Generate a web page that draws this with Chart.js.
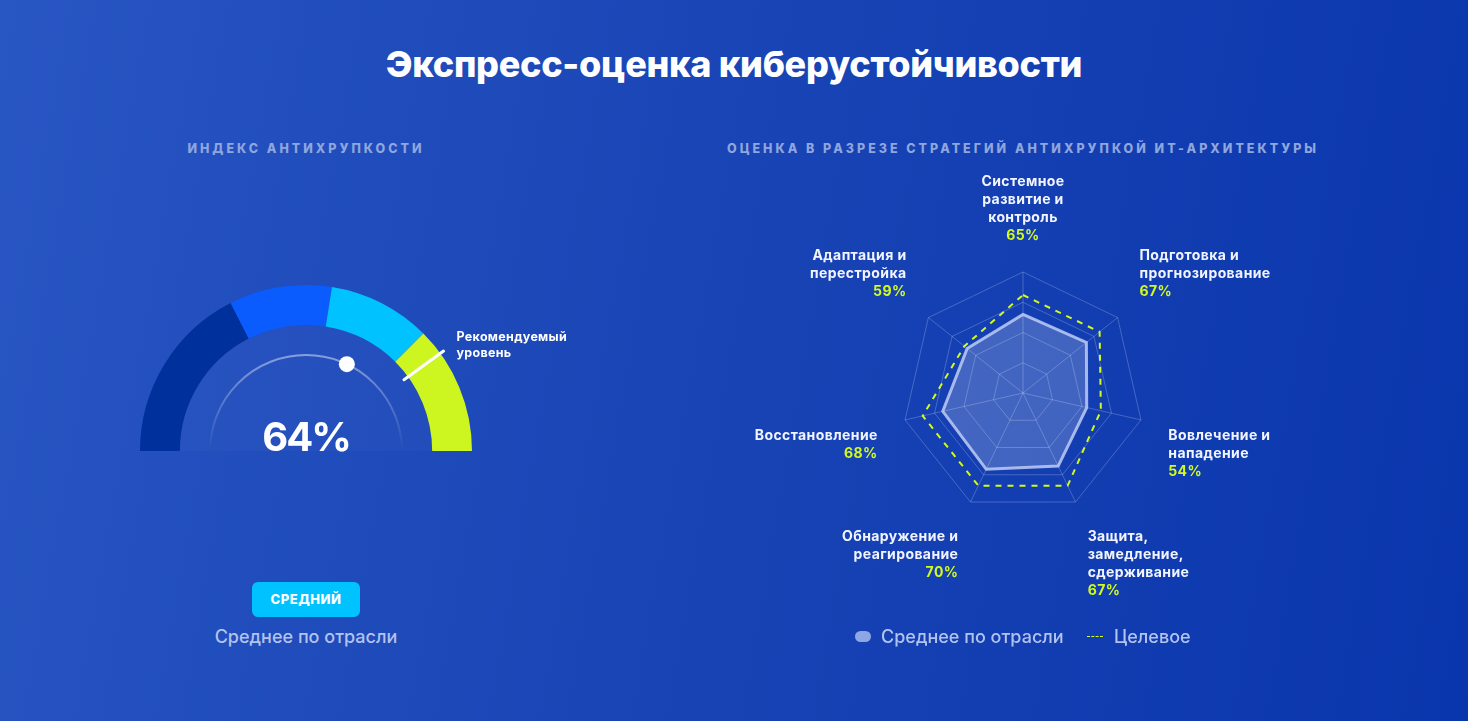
<!DOCTYPE html>
<html lang="ru">
<head>
<meta charset="utf-8">
<title>Экспресс-оценка киберустойчивости</title>
<script src="https://cdn.jsdelivr.net/npm/chart.js@4.4.1/dist/chart.umd.min.js"></script>
<style>
  html, body { margin: 0; padding: 0; }
  body {
    width: 1468px; height: 721px; overflow: hidden; position: relative;
    background: linear-gradient(100deg, #2856c3 0%, #1a45b6 45%, #0a36ad 100%);
    font-family: Inter, "Noto Sans", sans-serif; color: #fff;
  }
  h1 { position: absolute; left: 0; width: 1468px; top: 42px; margin: 0; text-align: center;
       font-size: 36px; font-weight: 800; letter-spacing: -0.3px; }
  .sub { position: absolute; top: 141px; font-size: 12.5px; font-weight: 800; letter-spacing: 3px;
         color: #8fa6de; text-align: center; white-space: nowrap; }
  canvas { position: absolute; }
  .badge { position: absolute; left: 252px; top: 582px; width: 108px; height: 35px; border-radius: 6px;
           background: #00c2ff; font-size: 13px; font-weight: 800; letter-spacing: 0.5px;
           line-height: 35px; text-align: center; }
  .note { position: absolute; font-size: 18px; font-weight: 500; color: #b3c3ee; line-height: 22px; white-space: nowrap; }
  .pill { position: absolute; left: 855px; top: 631px; width: 16px; height: 11px; border-radius: 6px; background: #8ea6e3; }
  .dash { position: absolute; left: 1087px; top: 636px; width: 16px; border-top: 1px dashed #d4ff1e; }
</style>
</head>
<body>
<h1>Экспресс-оценка киберустойчивости</h1>
<div class="sub" style="left:106px;width:400px;">ИНДЕКС АНТИХРУПКОСТИ</div>
<div class="sub" style="left:623px;width:800px;">ОЦЕНКА В РАЗРЕЗЕ СТРАТЕГИЙ АНТИХРУПКОЙ ИТ-АРХИТЕКТУРЫ</div>

<canvas id="gauge" width="520" height="260" style="left:100px;top:260px;width:520px;height:260px;"></canvas>
<canvas id="radar" width="650" height="480" style="left:700px;top:160px;width:650px;height:480px;"></canvas>

<div class="badge">СРЕДНИЙ</div>
<div class="note" style="left:106px;width:400px;text-align:center;top:626px;">Среднее по отрасли</div>

<div class="pill"></div>
<div class="note" style="left:881px;top:626px;">Среднее по отрасли</div>
<div class="dash"></div>
<div class="note" style="left:1114px;top:626px;">Целевое</div>

<script>
// gauge: colour bands of the index scale, 0..100
const gaugeBands = [35, 20, 20, 25];
const gaugeColors = ['#00309b', '#0b5cff', '#00c2ff', '#cdf520'];
const indexValue = 64;
const recommendedLevel = 80;

// radar: strategies, industry average and target
const strategyLabels = [
  ['Системное', 'развитие и', 'контроль'],
  ['Подготовка и', 'прогнозирование'],
  ['Вовлечение и', 'нападение'],
  ['Защита,', 'замедление,', 'сдерживание'],
  ['Обнаружение и', 'реагирование'],
  ['Восстановление'],
  ['Адаптация и', 'перестройка']
];
const industryAvg = [65, 67, 54, 67, 70, 68, 59];
const targetLevel = [81, 81, 66, 85, 85, 85, 62];

const LIME = '#d2fa1e';

// angle on the half ring for a value 0..100 (left -> top -> right)
function gaugeAngle(v) { return Math.PI + v / 100 * Math.PI; }

const gaugeExtras = {
  id: 'gaugeExtras',
  afterDatasetsDraw(chart) {
    const arc = chart.getDatasetMeta(0).data[0];
    const { x, y, innerRadius, outerRadius } = arc.getProps(['x', 'y', 'innerRadius', 'outerRadius'], true);
    const ctx = chart.ctx;
    ctx.save();

    // faint inner disc
    ctx.beginPath();
    ctx.arc(x, y, innerRadius, Math.PI, 2 * Math.PI);
    ctx.closePath();
    ctx.fillStyle = 'rgba(255,255,255,0.02)';
    ctx.fill();

    // thin track
    const tr = outerRadius * 0.578;
    const g = ctx.createLinearGradient(0, y - tr, 0, y);
    g.addColorStop(0, 'rgba(255,255,255,0.45)');
    g.addColorStop(1, 'rgba(255,255,255,0)');
    ctx.beginPath();
    ctx.arc(x, y, tr, Math.PI, 2 * Math.PI);
    ctx.strokeStyle = g;
    ctx.lineWidth = 2;
    ctx.stroke();

    // current value dot
    const a = gaugeAngle(indexValue);
    ctx.beginPath();
    ctx.arc(x + tr * Math.cos(a), y + tr * Math.sin(a), 8, 0, 2 * Math.PI);
    ctx.fillStyle = '#fff';
    ctx.fill();

    // recommended level tick
    const b = gaugeAngle(recommendedLevel);
    const r0 = innerRadius - 5, r1 = outerRadius + 4;
    ctx.beginPath();
    ctx.moveTo(x + r0 * Math.cos(b), y + r0 * Math.sin(b));
    ctx.lineTo(x + r1 * Math.cos(b), y + r1 * Math.sin(b));
    ctx.strokeStyle = '#fff';
    ctx.lineWidth = 3;
    ctx.lineCap = 'round';
    ctx.stroke();

    ctx.fillStyle = '#fff';
    ctx.font = '700 12.5px Inter';
    ctx.letterSpacing = '0.3px';
    ctx.textAlign = 'left';
    ctx.textBaseline = 'middle';
    const lx = x + r1 * Math.cos(b) + 13, ly = y + r1 * Math.sin(b);
    ctx.fillText('Рекомендуемый', lx, ly - 14);
    ctx.fillText('уровень', lx, ly + 2);

    // value
    ctx.font = '700 40px Inter';
    ctx.letterSpacing = '-2px';
    ctx.textAlign = 'center';
    ctx.textBaseline = 'alphabetic';
    ctx.fillText(indexValue + '%', x, y);
    ctx.restore();
  }
};

new Chart(document.getElementById('gauge'), {
  type: 'doughnut',
  data: {
    labels: ['Низкий', 'Ниже среднего', 'Средний', 'Высокий'],
    datasets: [{ data: gaugeBands, backgroundColor: gaugeColors, borderWidth: 0 }]
  },
  options: {
    responsive: false,
    animation: false,
    rotation: -90,
    circumference: 180,
    cutout: '76%',
    layout: { padding: { left: 40, right: 148, top: 25, bottom: 69 } },
    plugins: { legend: { display: false }, tooltip: { enabled: false } }
  },
  plugins: [gaugeExtras]
});

const radarLabels = {
  id: 'radarLabels',
  afterDraw(chart) {
    const scale = chart.scales.r;
    const ctx = chart.ctx;
    const lh = 18;
    ctx.save();
    ctx.font = '700 14px Inter';
    ctx.letterSpacing = '0.4px';
    ctx.textBaseline = 'middle';
    strategyLabels.forEach((lines, i) => {
      const p = scale.getPointPosition(i, scale.drawingArea + 28);
      const all = lines.concat([industryAvg[i] + '%']);
      const dx = p.x - scale.xCenter;
      ctx.textAlign = Math.abs(dx) < 2 ? 'center' : (dx > 0 ? 'left' : 'right');
      const h = all.length * lh;
      const top = p.y < scale.yCenter ? p.y - h : p.y;
      all.forEach((t, k) => {
        ctx.fillStyle = k === all.length - 1 ? LIME : '#f2f5ff';
        ctx.fillText(t, p.x, top + lh * k + lh / 2 + 1);
      });
    });
    ctx.restore();
  }
};

new Chart(document.getElementById('radar'), {
  type: 'radar',
  data: {
    labels: strategyLabels.map(l => l.join(' ')),
    datasets: [
      { label: 'Целевое', data: targetLevel, fill: false, borderColor: LIME, borderWidth: 2,
        borderDash: [6, 6], pointRadius: 0 },
      { label: 'Среднее по отрасли', data: industryAvg, fill: true, backgroundColor: 'rgba(255,255,255,0.2)',
        borderColor: 'rgba(190,205,245,0.85)', borderWidth: 3, pointRadius: 0 }
    ]
  },
  options: {
    responsive: false,
    animation: false,
    layout: { padding: { left: 202, right: 206, top: 112, bottom: 126 } },
    scales: {
      r: {
        min: 0, max: 100,
        ticks: { display: false, stepSize: 25 },
        grid: { color: 'rgba(255,255,255,0.22)', lineWidth: 1 },
        angleLines: { color: 'rgba(255,255,255,0.22)', lineWidth: 1 },
        pointLabels: { display: false }
      }
    },
    elements: { line: { tension: 0 } },
    plugins: { legend: { display: false }, tooltip: { enabled: false } }
  },
  plugins: [radarLabels]
});
</script>
</body>
</html>
